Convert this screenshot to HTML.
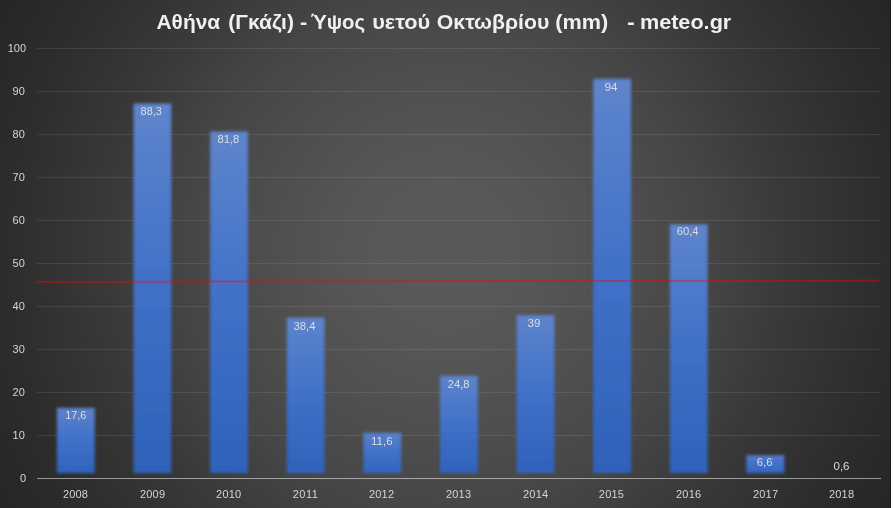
<!DOCTYPE html>
<html><head><meta charset="utf-8"><title>chart</title><style>
html,body{margin:0;padding:0;background:#262626}
body{width:893px;height:508px;overflow:hidden}
svg{display:block}
text{font-family:"Liberation Sans",sans-serif}
</style></head><body>
<svg width="893" height="508" viewBox="0 0 893 508">
<defs>
<radialGradient id="bg" gradientUnits="userSpaceOnUse" cx="446" cy="254" r="513.0">
<stop offset="0.0000" stop-color="rgb(89.0,89.0,89.0)"/><stop offset="0.0585" stop-color="rgb(88.6,88.6,88.6)"/><stop offset="0.1170" stop-color="rgb(87.6,87.6,87.6)"/><stop offset="0.1871" stop-color="rgb(85.6,85.6,85.6)"/><stop offset="0.2534" stop-color="rgb(83.0,83.0,83.0)"/><stop offset="0.3333" stop-color="rgb(79.3,79.3,79.3)"/><stop offset="0.4094" stop-color="rgb(75.0,75.0,75.0)"/><stop offset="0.4990" stop-color="rgb(69.5,69.5,69.5)"/><stop offset="0.5653" stop-color="rgb(64.8,64.8,64.8)"/><stop offset="0.6491" stop-color="rgb(58.3,58.3,58.3)"/><stop offset="0.7407" stop-color="rgb(51.5,51.5,51.5)"/><stop offset="0.8499" stop-color="rgb(44.7,44.7,44.7)"/><stop offset="0.9474" stop-color="rgb(39.6,39.6,39.6)"/><stop offset="1.0000" stop-color="rgb(38.2,38.2,38.2)"/>
</radialGradient>
<linearGradient id="bar" x1="0" y1="0" x2="0" y2="1">
<stop offset="0" stop-color="#5f85cc"/><stop offset="0.5" stop-color="#4070c8"/><stop offset="1" stop-color="#2e61b9"/>
</linearGradient>
<filter id="soft" x="-20%" y="-20%" width="140%" height="140%"><feGaussianBlur stdDeviation="1.8"/></filter>
</defs>
<rect width="893" height="508" fill="url(#bg)"/>
<rect x="890" y="0" width="1" height="508" fill="#1c1c1c"/>
<rect x="891" y="0" width="2" height="508" fill="#fff"/>

<rect x="36.5" y="435" width="844.5" height="1" fill="#fff" fill-opacity="0.09"/>
<rect x="36.5" y="392" width="844.5" height="1" fill="#fff" fill-opacity="0.09"/>
<rect x="36.5" y="349" width="844.5" height="1" fill="#fff" fill-opacity="0.09"/>
<rect x="36.5" y="306" width="844.5" height="1" fill="#fff" fill-opacity="0.09"/>
<rect x="36.5" y="263" width="844.5" height="1" fill="#fff" fill-opacity="0.09"/>
<rect x="36.5" y="220" width="844.5" height="1" fill="#fff" fill-opacity="0.09"/>
<rect x="36.5" y="177" width="844.5" height="1" fill="#fff" fill-opacity="0.09"/>
<rect x="36.5" y="134" width="844.5" height="1" fill="#fff" fill-opacity="0.09"/>
<rect x="36.5" y="91" width="844.5" height="1" fill="#fff" fill-opacity="0.09"/>
<rect x="36.5" y="48" width="844.5" height="1" fill="#fff" fill-opacity="0.09"/>
<linearGradient id="g0" gradientUnits="userSpaceOnUse" x1="0" y1="402.8" x2="0" y2="478.5"><stop offset="0" stop-color="#5f85cc"/><stop offset="0.5" stop-color="#4070c8"/><stop offset="1" stop-color="#2e61b9"/></linearGradient>
<rect x="56.90" y="407.90" width="37.80" height="65.20" fill="url(#g0)" filter="url(#soft)"/>
<linearGradient id="g1" gradientUnits="userSpaceOnUse" x1="0" y1="98.8" x2="0" y2="478.5"><stop offset="0" stop-color="#5f85cc"/><stop offset="0.5" stop-color="#4070c8"/><stop offset="1" stop-color="#2e61b9"/></linearGradient>
<rect x="133.52" y="103.50" width="37.80" height="369.60" fill="url(#g1)" filter="url(#soft)"/>
<linearGradient id="g2" gradientUnits="userSpaceOnUse" x1="0" y1="126.8" x2="0" y2="478.5"><stop offset="0" stop-color="#5f85cc"/><stop offset="0.5" stop-color="#4070c8"/><stop offset="1" stop-color="#2e61b9"/></linearGradient>
<rect x="210.14" y="131.60" width="37.80" height="341.50" fill="url(#g2)" filter="url(#soft)"/>
<linearGradient id="g3" gradientUnits="userSpaceOnUse" x1="0" y1="313.4" x2="0" y2="478.5"><stop offset="0" stop-color="#5f85cc"/><stop offset="0.5" stop-color="#4070c8"/><stop offset="1" stop-color="#2e61b9"/></linearGradient>
<rect x="286.76" y="317.60" width="37.80" height="155.50" fill="url(#g3)" filter="url(#soft)"/>
<linearGradient id="g4" gradientUnits="userSpaceOnUse" x1="0" y1="428.6" x2="0" y2="478.5"><stop offset="0" stop-color="#5f85cc"/><stop offset="0.5" stop-color="#4070c8"/><stop offset="1" stop-color="#2e61b9"/></linearGradient>
<rect x="363.38" y="432.70" width="37.80" height="40.40" fill="url(#g4)" filter="url(#soft)"/>
<linearGradient id="g5" gradientUnits="userSpaceOnUse" x1="0" y1="371.9" x2="0" y2="478.5"><stop offset="0" stop-color="#5f85cc"/><stop offset="0.5" stop-color="#4070c8"/><stop offset="1" stop-color="#2e61b9"/></linearGradient>
<rect x="440.00" y="375.90" width="37.80" height="97.20" fill="url(#g5)" filter="url(#soft)"/>
<linearGradient id="g6" gradientUnits="userSpaceOnUse" x1="0" y1="310.8" x2="0" y2="478.5"><stop offset="0" stop-color="#5f85cc"/><stop offset="0.5" stop-color="#4070c8"/><stop offset="1" stop-color="#2e61b9"/></linearGradient>
<rect x="516.62" y="315.30" width="37.80" height="157.80" fill="url(#g6)" filter="url(#soft)"/>
<linearGradient id="g7" gradientUnits="userSpaceOnUse" x1="0" y1="74.3" x2="0" y2="478.5"><stop offset="0" stop-color="#5f85cc"/><stop offset="0.5" stop-color="#4070c8"/><stop offset="1" stop-color="#2e61b9"/></linearGradient>
<rect x="593.24" y="78.80" width="37.80" height="394.30" fill="url(#g7)" filter="url(#soft)"/>
<linearGradient id="g8" gradientUnits="userSpaceOnUse" x1="0" y1="218.8" x2="0" y2="478.5"><stop offset="0" stop-color="#5f85cc"/><stop offset="0.5" stop-color="#4070c8"/><stop offset="1" stop-color="#2e61b9"/></linearGradient>
<rect x="669.86" y="224.30" width="37.80" height="248.80" fill="url(#g8)" filter="url(#soft)"/>
<linearGradient id="g9" gradientUnits="userSpaceOnUse" x1="0" y1="450.1" x2="0" y2="478.5"><stop offset="0" stop-color="#5f85cc"/><stop offset="0.5" stop-color="#4070c8"/><stop offset="1" stop-color="#2e61b9"/></linearGradient>
<rect x="746.48" y="455.30" width="37.80" height="17.80" fill="url(#g9)" filter="url(#soft)"/>
<rect x="37" y="478" width="844" height="1" fill="#f2f2f2" fill-opacity="0.55"/>
<line x1="36.8" y1="281.9" x2="878.8" y2="280.5" stroke="#ff0000" stroke-opacity="0.39" stroke-width="2"/>
<g opacity="0.999">
<text x="26.0" y="482.4" font-size="11" fill="#d6d6d6" text-anchor="end">0</text>
<text x="24.8" y="439.4" font-size="11" fill="#d6d6d6" text-anchor="end">10</text>
<text x="24.8" y="396.4" font-size="11" fill="#d6d6d6" text-anchor="end">20</text>
<text x="24.8" y="353.4" font-size="11" fill="#d6d6d6" text-anchor="end">30</text>
<text x="24.8" y="310.4" font-size="11" fill="#d6d6d6" text-anchor="end">40</text>
<text x="24.8" y="267.4" font-size="11" fill="#d6d6d6" text-anchor="end">50</text>
<text x="24.8" y="224.4" font-size="11" fill="#d6d6d6" text-anchor="end">60</text>
<text x="24.8" y="181.4" font-size="11" fill="#d6d6d6" text-anchor="end">70</text>
<text x="24.8" y="138.4" font-size="11" fill="#d6d6d6" text-anchor="end">80</text>
<text x="24.8" y="95.4" font-size="11" fill="#d6d6d6" text-anchor="end">90</text>
<text x="26.0" y="52.4" font-size="11" fill="#d6d6d6" text-anchor="end">100</text>
<text x="75.45" y="498.4" font-size="11" fill="#d6d6d6" text-anchor="middle" textLength="25.1">2008</text>
<text x="65.20" y="418.8" font-size="10.8" fill="#dedede" textLength="21.20" lengthAdjust="spacingAndGlyphs">17,6</text>
<text x="152.45" y="498.4" font-size="11" fill="#d6d6d6" text-anchor="middle" textLength="25.1">2009</text>
<text x="140.55" y="114.8" font-size="10.8" fill="#dedede" textLength="21.30" lengthAdjust="spacingAndGlyphs">88,3</text>
<text x="228.60" y="498.4" font-size="11" fill="#d6d6d6" text-anchor="middle" textLength="25.1">2010</text>
<text x="217.50" y="142.5" font-size="10.8" fill="#dedede" textLength="21.80" lengthAdjust="spacingAndGlyphs">81,8</text>
<text x="305.25" y="498.4" font-size="11" fill="#d6d6d6" text-anchor="middle" textLength="25.1">2011</text>
<text x="293.50" y="329.8" font-size="10.8" fill="#dedede" textLength="22.00" lengthAdjust="spacingAndGlyphs">38,4</text>
<text x="381.45" y="498.4" font-size="11" fill="#d6d6d6" text-anchor="middle" textLength="25.1">2012</text>
<text x="371.10" y="444.8" font-size="10.8" fill="#dedede" textLength="21.40" lengthAdjust="spacingAndGlyphs">11,6</text>
<text x="458.45" y="498.4" font-size="11" fill="#d6d6d6" text-anchor="middle" textLength="25.1">2013</text>
<text x="447.82" y="387.8" font-size="10.8" fill="#dedede" textLength="21.75" lengthAdjust="spacingAndGlyphs">24,8</text>
<text x="535.55" y="498.4" font-size="11" fill="#d6d6d6" text-anchor="middle" textLength="25.1">2014</text>
<text x="527.55" y="326.8" font-size="10.8" fill="#dedede" textLength="12.90" lengthAdjust="spacingAndGlyphs">39</text>
<text x="611.35" y="498.4" font-size="11" fill="#d6d6d6" text-anchor="middle" textLength="25.1">2015</text>
<text x="604.58" y="90.8" font-size="10.8" fill="#dedede" textLength="13.05" lengthAdjust="spacingAndGlyphs">94</text>
<text x="688.55" y="498.4" font-size="11" fill="#d6d6d6" text-anchor="middle" textLength="25.1">2016</text>
<text x="676.68" y="234.8" font-size="10.8" fill="#dedede" textLength="21.85" lengthAdjust="spacingAndGlyphs">60,4</text>
<text x="765.45" y="498.4" font-size="11" fill="#d6d6d6" text-anchor="middle" textLength="25.1">2017</text>
<text x="756.70" y="465.8" font-size="10.8" fill="#dedede" textLength="15.80" lengthAdjust="spacingAndGlyphs">6,6</text>
<text x="841.45" y="498.4" font-size="11" fill="#d6d6d6" text-anchor="middle" textLength="25.1">2018</text>
<text x="833.50" y="470.0" font-size="10.8" fill="#dedede" textLength="16.00" lengthAdjust="spacingAndGlyphs">0,6</text>
<text x="156.5" y="28.6" font-size="19.7" font-weight="bold" fill="#f0f0f0" textLength="63.6" lengthAdjust="spacingAndGlyphs">Αθήνα</text>
<text x="228.3" y="28.6" font-size="19.7" font-weight="bold" fill="#f0f0f0" textLength="65.6" lengthAdjust="spacingAndGlyphs">(Γκάζι)</text>
<text x="300.1" y="28.6" font-size="19.7" font-weight="bold" fill="#f0f0f0" textLength="7.2" lengthAdjust="spacingAndGlyphs">-</text>
<text x="309.6" y="28.6" font-size="19.7" font-weight="bold" fill="#f0f0f0" textLength="6.0" lengthAdjust="spacingAndGlyphs">΄</text>
<text x="313.2" y="28.6" font-size="19.7" font-weight="bold" fill="#f0f0f0" textLength="51.9" lengthAdjust="spacingAndGlyphs">Υψος</text>
<text x="372.2" y="28.6" font-size="19.7" font-weight="bold" fill="#f0f0f0" textLength="58.1" lengthAdjust="spacingAndGlyphs">υετού</text>
<text x="436.8" y="28.6" font-size="19.7" font-weight="bold" fill="#f0f0f0" textLength="112.5" lengthAdjust="spacingAndGlyphs">Οκτωβρίου</text>
<text x="555.2" y="28.6" font-size="19.7" font-weight="bold" fill="#f0f0f0" textLength="52.9" lengthAdjust="spacingAndGlyphs">(mm)</text>
<text x="627.1" y="28.6" font-size="19.7" font-weight="bold" fill="#f0f0f0" textLength="7.8" lengthAdjust="spacingAndGlyphs">-</text>
<text x="639.9" y="28.6" font-size="19.7" font-weight="bold" fill="#f0f0f0" textLength="91.4" lengthAdjust="spacingAndGlyphs">meteo.gr</text>
</g></svg></body></html>
